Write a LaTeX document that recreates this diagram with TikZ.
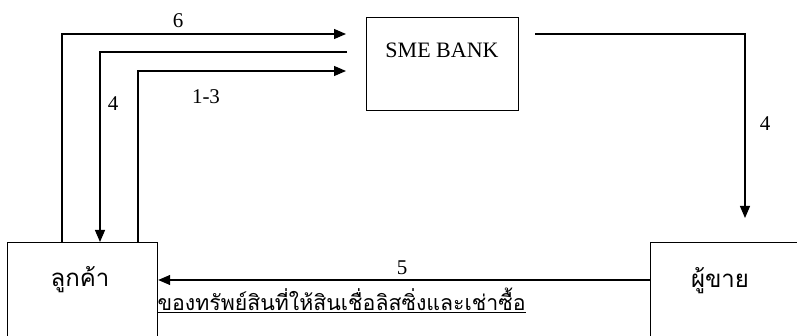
\documentclass[tikz,border=0pt]{standalone}
\usepackage{fontspec}
\setmainfont{Liberation Serif}
\newfontfamily\thaifont[Script=Thai]{Loma}
\usetikzlibrary{arrows.meta}
\begin{document}
\begin{tikzpicture}[x=1pt,y=-1pt, line width=1.2pt,
  box/.style={draw, rectangle, inner sep=0pt, anchor=north west},
  arr/.style={-{Triangle[length=12pt,width=10pt]}},
  lbl/.style={font=\fontsize{21}{23}\selectfont, inner sep=0pt},
  thai/.style={font=\thaifont\fontsize{24}{26}\selectfont, inner sep=0pt},
  thainote/.style={font=\thaifont\fontsize{21.3}{24}\selectfont, inner sep=0pt}]
\useasboundingbox (0,0) rectangle (797,336);
\clip (0,0) rectangle (797,336);
\node[box, minimum width=152pt, minimum height=93pt] (bank) at (366,17) {};
\node[box, minimum width=150pt, minimum height=130pt] (cust) at (7,242) {};
\node[box, minimum width=170pt, minimum height=130pt] (seller) at (650,242) {};
\coordinate (t6) at (346,34);
\coordinate (s4) at (347,52);
\coordinate (t13) at (346,71);
\coordinate (b4s) at (535,34);
\coordinate (b4e) at (745,218);
\draw[arr] ([xshift=55pt]cust.north west) |- (t6);
\draw[arr] (s4) -| ([xshift=93pt]cust.north west);
\draw[arr] ([xshift=131pt]cust.north west) |- (t13);
\draw[arr] (b4s) -| (b4e);
\draw[arr] ([yshift=-38pt]seller.north west) -- ([yshift=-38pt]cust.north east);
\node[lbl] (l6) at (178,21) {6};
\node[lbl] (l4a) at (113,104) {4};
\node[lbl] (l13) at (206,97) {1-3};
\node[lbl] (l4b) at (765,124) {4};
\node[lbl] (l5) at (402,268) {5};
\node[font=\fontsize{22}{24}\selectfont, inner sep=0pt] (banktxt) at (442,50) {SME BANK};
\node[thai] (custtxt) at (80,280) {ลูกค้า};
\node[thai] (sellertxt) at (720,281) {ผู้ขาย};
\node[thainote, anchor=base west] (note) at (157,311) {\underline{ของทรัพย์สินที่ให้สินเชื่อลิสซิ่งและเช่าซื้อ}};
\end{tikzpicture}
\end{document}
